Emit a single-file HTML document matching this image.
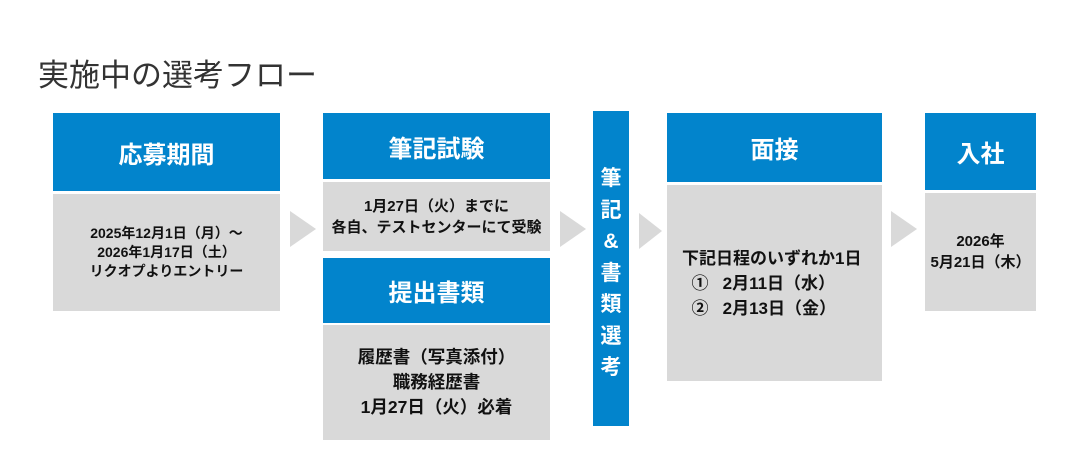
<!DOCTYPE html>
<html><head><meta charset="utf-8"><style>
body{margin:0;width:1080px;height:472px;background:#fff;position:relative;overflow:hidden;font-family:"Liberation Sans","Noto Sans CJK JP",sans-serif;}
.a{position:absolute;box-sizing:border-box;}
.h{background:#0284cc;color:#fff;font-weight:bold;font-size:24px;display:flex;align-items:center;justify-content:center;}
.b{background:#d9d9d9;color:#111;font-weight:bold;display:flex;align-items:center;justify-content:center;text-align:center;}
.t{width:0;height:0;border-top:18px solid transparent;border-bottom:18px solid transparent;border-left:26px solid #d9d9d9;}
</style></head><body>
<div class="a" style="left:38px;top:50px;font-size:31px;color:#333;">実施中の選考フロー</div>

<div class="a h" style="left:53px;top:113px;width:227px;height:78px;">応募期間</div>
<div class="a b" style="left:53px;top:194px;width:227px;height:117px;font-size:14px;line-height:19px;">2025年12月1日（月）～<br>2026年1月17日（土）<br>リクオプよりエントリー</div>

<div class="a t" style="left:290px;top:211px;"></div>

<div class="a h" style="left:323px;top:113px;width:227px;height:66px;">筆記試験</div>
<div class="a b" style="left:323px;top:182px;width:227px;height:69px;font-size:15px;line-height:21px;">1月27日（火）までに<br>各自、テストセンターにて受験</div>
<div class="a h" style="left:323px;top:258px;width:227px;height:65px;">提出書類</div>
<div class="a b" style="left:323px;top:325px;width:227px;height:115px;font-size:17.5px;line-height:25px;">履歴書（写真添付）<br>職務経歴書<br>1月27日（火）必着</div>

<div class="a t" style="left:560px;top:211px;"></div>

<div class="a" style="left:593px;top:111px;width:36px;height:315px;background:#0284cc;color:#fff;font-weight:bold;font-size:21px;line-height:31.5px;text-align:center;padding-top:52px;">筆<br>記<br>&amp;<br>書<br>類<br>選<br>考</div>

<div class="a t" style="left:639px;top:213px;border-left-width:23px;"></div>

<div class="a h" style="left:667px;top:113px;width:215px;height:69px;">面接</div>
<div class="a b" style="left:667px;top:185px;width:215px;height:196px;font-size:17px;line-height:25px;text-align:left;padding-left:15px;justify-content:flex-start;"><div>下記日程のいずれか1日<br>&nbsp;&nbsp;①&nbsp;&nbsp;&nbsp;2月11日（水）<br>&nbsp;&nbsp;②&nbsp;&nbsp;&nbsp;2月13日（金）</div></div>

<div class="a t" style="left:891px;top:211px;"></div>

<div class="a h" style="left:925px;top:113px;width:111px;height:77px;">入社</div>
<div class="a b" style="left:925px;top:193px;width:111px;height:118px;font-size:15px;line-height:21px;">2026年<br>5月21日（木）</div>
</body></html>
